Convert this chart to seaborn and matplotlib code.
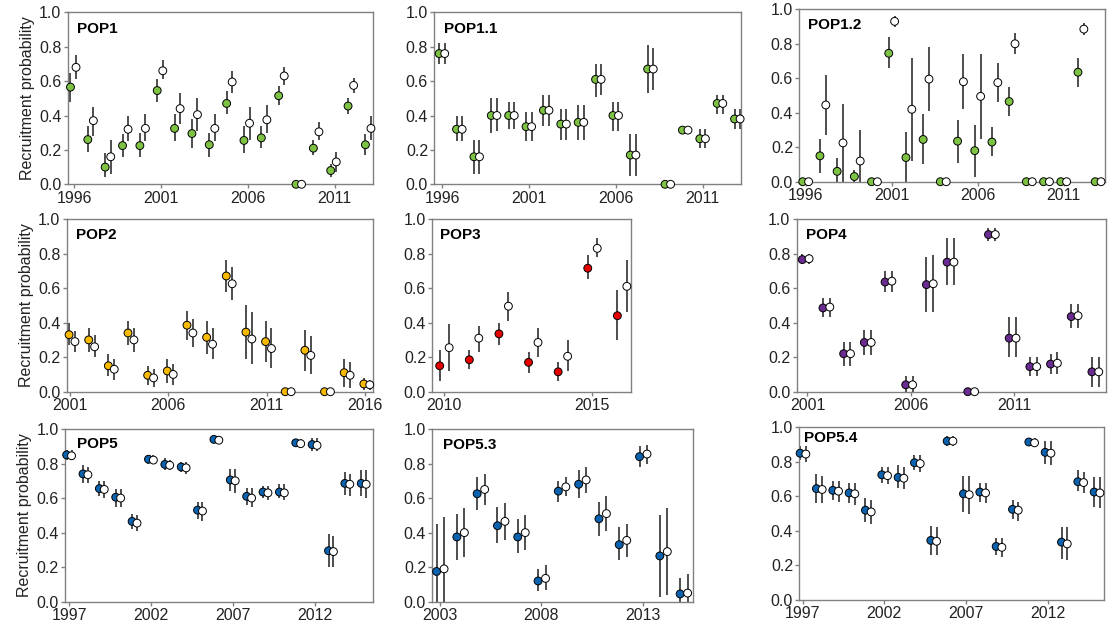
import numpy as np
import pandas as pd
import matplotlib
matplotlib.use("Agg")
import matplotlib.pyplot as plt
import seaborn as sns

# ---------------- DATA ----------------
pop1_start = 1996
pop1_fill    = [0.565, 0.26, 0.10, 0.225, 0.225, 0.545, 0.325, 0.295, 0.23, 0.47, 0.255, 0.27, 0.515, 0.0, 0.21, 0.08, 0.455, 0.23]
pop1_fill_lo = [0.48, 0.19, 0.04, 0.16, 0.16, 0.48, 0.25, 0.21, 0.16, 0.41, 0.18, 0.21, 0.46, 0.0, 0.17, 0.04, 0.41, 0.17]
pop1_fill_hi = [0.65, 0.34, 0.18, 0.29, 0.30, 0.61, 0.41, 0.38, 0.30, 0.54, 0.34, 0.34, 0.57, 0.0, 0.26, 0.12, 0.50, 0.29]
pop1_open    = [0.68, 0.37, 0.16, 0.32, 0.325, 0.66, 0.44, 0.405, 0.325, 0.595, 0.355, 0.375, 0.63, 0.0, 0.305, 0.13, 0.575, 0.325]
pop1_open_lo = [0.61, 0.28, 0.06, 0.25, 0.25, 0.61, 0.35, 0.31, 0.25, 0.53, 0.26, 0.30, 0.58, 0.0, 0.26, 0.07, 0.53, 0.26]
pop1_open_hi = [0.75, 0.45, 0.26, 0.40, 0.41, 0.72, 0.53, 0.50, 0.41, 0.66, 0.45, 0.46, 0.68, 0.0, 0.36, 0.19, 0.62, 0.40]

pop11_start = 1996
pop11_fill    = [0.76, 0.32, 0.16, 0.40, 0.40, 0.335, 0.43, 0.35, 0.36, 0.61, 0.40, 0.17, 0.67, 0.0, 0.315, 0.265, 0.47, 0.38]
pop11_fill_lo = [0.70, 0.25, 0.06, 0.30, 0.32, 0.25, 0.34, 0.26, 0.26, 0.51, 0.31, 0.05, 0.53, 0.0, 0.315, 0.21, 0.41, 0.32]
pop11_fill_hi = [0.82, 0.40, 0.26, 0.50, 0.48, 0.42, 0.52, 0.44, 0.46, 0.70, 0.48, 0.29, 0.81, 0.0, 0.315, 0.32, 0.52, 0.44]
pop11_open    = [0.76, 0.32, 0.16, 0.40, 0.40, 0.335, 0.43, 0.35, 0.36, 0.61, 0.40, 0.17, 0.67, 0.0, 0.315, 0.265, 0.47, 0.38]
pop11_open_lo = [0.70, 0.25, 0.06, 0.31, 0.32, 0.25, 0.34, 0.26, 0.26, 0.52, 0.31, 0.05, 0.55, 0.0, 0.315, 0.21, 0.41, 0.32]
pop11_open_hi = [0.82, 0.40, 0.26, 0.50, 0.48, 0.42, 0.52, 0.44, 0.46, 0.70, 0.48, 0.29, 0.79, 0.0, 0.315, 0.32, 0.52, 0.44]

pop12_start = 1996
pop12_fill    = [0.0, 0.15, 0.06, 0.03, 0.0, 0.745, 0.14, 0.245, 0.0, 0.235, 0.18, 0.23, 0.465, 0.0, 0.0, 0.0, 0.635, 0.0]
pop12_fill_lo = [0.0, 0.05, 0.0, 0.0, 0.0, 0.66, 0.0, 0.10, 0.0, 0.11, 0.03, 0.15, 0.38, 0.0, 0.0, 0.0, 0.55, 0.0]
pop12_fill_hi = [0.0, 0.25, 0.14, 0.07, 0.0, 0.84, 0.29, 0.39, 0.0, 0.36, 0.33, 0.32, 0.55, 0.0, 0.0, 0.0, 0.72, 0.0]
pop12_open    = [0.0, 0.445, 0.225, 0.12, 0.0, 0.93, 0.42, 0.595, 0.0, 0.58, 0.495, 0.575, 0.80, 0.0, 0.0, 0.0, 0.885, 0.0]
pop12_open_lo = [0.0, 0.27, 0.0, 0.0, 0.0, 0.90, 0.12, 0.41, 0.0, 0.42, 0.25, 0.46, 0.74, 0.0, 0.0, 0.0, 0.85, 0.0]
pop12_open_hi = [0.0, 0.62, 0.45, 0.30, 0.0, 0.96, 0.72, 0.78, 0.0, 0.74, 0.74, 0.69, 0.86, 0.0, 0.0, 0.0, 0.92, 0.0]

pop2_start = 2001
pop2_fill    = [0.33, 0.30, 0.15, 0.34, 0.095, 0.12, 0.385, 0.315, 0.67, 0.345, 0.29, 0.0, 0.24, 0.0, 0.11, 0.045]
pop2_fill_lo = [0.27, 0.23, 0.09, 0.27, 0.04, 0.05, 0.30, 0.22, 0.58, 0.19, 0.17, 0.0, 0.12, 0.0, 0.03, 0.01]
pop2_fill_hi = [0.40, 0.37, 0.22, 0.41, 0.15, 0.19, 0.47, 0.41, 0.76, 0.50, 0.41, 0.0, 0.36, 0.0, 0.19, 0.08]
pop2_open    = [0.29, 0.26, 0.13, 0.30, 0.08, 0.10, 0.34, 0.275, 0.625, 0.305, 0.25, 0.0, 0.21, 0.0, 0.095, 0.04]
pop2_open_lo = [0.23, 0.20, 0.07, 0.23, 0.03, 0.04, 0.26, 0.19, 0.53, 0.16, 0.14, 0.0, 0.10, 0.0, 0.02, 0.01]
pop2_open_hi = [0.35, 0.33, 0.19, 0.37, 0.13, 0.16, 0.42, 0.37, 0.72, 0.46, 0.37, 0.0, 0.32, 0.0, 0.17, 0.07]

pop3_start = 2010
pop3_fill    = [0.15, 0.185, 0.335, 0.17, 0.115, 0.715, 0.44]
pop3_fill_lo = [0.06, 0.13, 0.27, 0.11, 0.06, 0.65, 0.30]
pop3_fill_hi = [0.24, 0.24, 0.40, 0.23, 0.17, 0.79, 0.59]
pop3_open    = [0.255, 0.31, 0.495, 0.285, 0.205, 0.83, 0.61]
pop3_open_lo = [0.12, 0.23, 0.41, 0.20, 0.12, 0.78, 0.46]
pop3_open_hi = [0.39, 0.38, 0.58, 0.37, 0.30, 0.89, 0.76]

pop4_start = 2001
pop4_fill    = [0.765, 0.485, 0.22, 0.285, 0.635, 0.04, 0.62, 0.75, 0.0, 0.91, 0.31, 0.145, 0.16, 0.435, 0.115]
pop4_fill_lo = [0.74, 0.43, 0.15, 0.21, 0.58, 0.0, 0.46, 0.62, 0.0, 0.87, 0.20, 0.09, 0.10, 0.37, 0.03]
pop4_fill_hi = [0.80, 0.54, 0.29, 0.36, 0.70, 0.09, 0.78, 0.89, 0.0, 0.95, 0.43, 0.20, 0.22, 0.51, 0.20]
pop4_open    = [0.77, 0.49, 0.22, 0.285, 0.64, 0.04, 0.625, 0.75, 0.0, 0.91, 0.31, 0.145, 0.165, 0.44, 0.115]
pop4_open_lo = [0.74, 0.43, 0.15, 0.21, 0.58, 0.0, 0.46, 0.62, 0.0, 0.87, 0.20, 0.09, 0.10, 0.37, 0.03]
pop4_open_hi = [0.80, 0.54, 0.29, 0.36, 0.70, 0.09, 0.79, 0.89, 0.0, 0.95, 0.43, 0.20, 0.23, 0.51, 0.20]

pop5_start = 1997
pop5_fill    = [0.85, 0.74, 0.655, 0.605, 0.465, 0.825, 0.795, 0.78, 0.53, 0.94, 0.705, 0.61, 0.635, 0.635, 0.92, 0.91, 0.295, 0.685, 0.685]
pop5_fill_lo = [0.82, 0.69, 0.61, 0.55, 0.42, 0.80, 0.76, 0.75, 0.48, 0.92, 0.64, 0.56, 0.60, 0.60, 0.90, 0.87, 0.20, 0.62, 0.61]
pop5_fill_hi = [0.88, 0.79, 0.70, 0.65, 0.51, 0.85, 0.83, 0.81, 0.58, 0.96, 0.77, 0.66, 0.67, 0.68, 0.94, 0.95, 0.39, 0.75, 0.76]
pop5_open    = [0.845, 0.735, 0.65, 0.60, 0.455, 0.82, 0.79, 0.775, 0.525, 0.935, 0.70, 0.60, 0.63, 0.63, 0.915, 0.905, 0.29, 0.68, 0.68]
pop5_open_lo = [0.82, 0.69, 0.60, 0.55, 0.41, 0.80, 0.76, 0.74, 0.47, 0.92, 0.63, 0.55, 0.59, 0.59, 0.90, 0.87, 0.20, 0.61, 0.60]
pop5_open_hi = [0.88, 0.78, 0.70, 0.65, 0.50, 0.85, 0.82, 0.81, 0.58, 0.96, 0.77, 0.66, 0.67, 0.68, 0.94, 0.95, 0.38, 0.74, 0.76]

pop53_start = 2003
pop53_fill    = [0.175, 0.375, 0.625, 0.44, 0.375, 0.12, 0.64, 0.68, 0.48, 0.33, 0.84, 0.265, 0.045]
pop53_fill_lo = [0.0, 0.24, 0.53, 0.34, 0.28, 0.06, 0.58, 0.60, 0.38, 0.24, 0.78, 0.03, 0.0]
pop53_fill_hi = [0.45, 0.51, 0.72, 0.55, 0.48, 0.19, 0.70, 0.76, 0.58, 0.43, 0.90, 0.50, 0.14]
pop53_open    = [0.19, 0.40, 0.65, 0.465, 0.40, 0.135, 0.665, 0.705, 0.51, 0.355, 0.855, 0.29, 0.05]
pop53_open_lo = [0.0, 0.26, 0.56, 0.36, 0.30, 0.07, 0.61, 0.63, 0.41, 0.26, 0.80, 0.04, 0.0]
pop53_open_hi = [0.49, 0.54, 0.74, 0.57, 0.50, 0.21, 0.72, 0.78, 0.61, 0.45, 0.91, 0.54, 0.16]

pop54_start = 1997
pop54_fill    = [0.85, 0.645, 0.635, 0.62, 0.52, 0.725, 0.71, 0.795, 0.345, 0.92, 0.615, 0.625, 0.31, 0.525, 0.915, 0.855, 0.335, 0.685, 0.625]
pop54_fill_lo = [0.81, 0.56, 0.58, 0.56, 0.45, 0.68, 0.65, 0.75, 0.26, 0.89, 0.51, 0.57, 0.26, 0.47, 0.89, 0.79, 0.24, 0.63, 0.54]
pop54_fill_hi = [0.89, 0.73, 0.69, 0.68, 0.59, 0.77, 0.78, 0.84, 0.43, 0.95, 0.72, 0.68, 0.36, 0.58, 0.94, 0.92, 0.42, 0.75, 0.71]
pop54_open    = [0.845, 0.64, 0.63, 0.615, 0.51, 0.72, 0.705, 0.79, 0.34, 0.92, 0.61, 0.62, 0.305, 0.52, 0.91, 0.85, 0.325, 0.68, 0.62]
pop54_open_lo = [0.80, 0.56, 0.57, 0.55, 0.44, 0.67, 0.64, 0.74, 0.26, 0.89, 0.50, 0.56, 0.25, 0.46, 0.89, 0.78, 0.23, 0.62, 0.53]
pop54_open_hi = [0.89, 0.72, 0.69, 0.68, 0.58, 0.77, 0.77, 0.84, 0.42, 0.95, 0.72, 0.68, 0.36, 0.57, 0.94, 0.92, 0.42, 0.74, 0.71]

tick_labels_pop1 = [1996, 2001, 2006, 2011]
tick_labels_pop2 = [2001, 2006, 2011, 2016]
tick_labels_pop3 = [2010, 2015]
tick_labels_pop4 = [2001, 2006, 2011]
tick_labels_pop5 = [1997, 2002, 2007, 2012]
tick_labels_pop53 = [2003, 2008, 2013]

# ---------------- STYLE ----------------
sns.set_theme(style="ticks")
plt.rcParams['font.family'] = ['Liberation Sans', 'DejaVu Sans']
plt.rcParams['font.size'] = 11

W, H = 1113, 631
fig = plt.figure(figsize=(W / 100, H / 100), dpi=100)

GREEN = '#7DC242'
GOLD = '#F7BA00'
RED = '#E60000'
PURPLE = '#6B2C91'
BLUE = '#0B63B0'
BAR = '#404040'
SPINE = '#808080'

panels = [
    ("POP1", pop1_start, (pop1_fill, pop1_fill_lo, pop1_fill_hi, pop1_open, pop1_open_lo, pop1_open_hi),
     GREEN, (67.7, 12.3, 372.7, 184.3), (1995.62, 2013.2), tick_labels_pop1, (-0.22, 0.10), True, (0.03, 0.905)),
    ("POP1.1", pop11_start, (pop11_fill, pop11_fill_lo, pop11_fill_hi, pop11_open, pop11_open_lo, pop11_open_hi),
     GREEN, (434.3, 12.3, 741.0, 184.3), (1995.55, 2013.2), tick_labels_pop1, (-0.17, 0.15), False, (0.03, 0.905)),
    ("POP1.2", pop12_start, (pop12_fill, pop12_fill_lo, pop12_fill_hi, pop12_open, pop12_open_lo, pop12_open_hi),
     GREEN, (799.3, 9.3, 1105.0, 181.7), (1995.63, 2013.4), tick_labels_pop1, (-0.17, 0.17), False, (0.03, 0.91)),
    ("POP2", pop2_start, (pop2_fill, pop2_fill_lo, pop2_fill_hi, pop2_open, pop2_open_lo, pop2_open_hi),
     GOLD, (66.7, 219.0, 372.7, 391.7), (2000.83, 2016.4), tick_labels_pop2, (-0.05, 0.25), True, (0.03, 0.905)),
    ("POP3", pop3_start, (pop3_fill, pop3_fill_lo, pop3_fill_hi, pop3_open, pop3_open_lo, pop3_open_hi),
     RED, (432.3, 219.0, 630.7, 391.7), (2009.6, 2016.3), tick_labels_pop3, (-0.15, 0.17), False, (0.04, 0.905)),
    ("POP4", pop4_start, (pop4_fill, pop4_fill_lo, pop4_fill_hi, pop4_open, pop4_open_lo, pop4_open_hi),
     PURPLE, (796.7, 219.0, 1106.0, 391.7), (2000.48, 2015.43), tick_labels_pop4, (-0.25, 0.08), False, (0.03, 0.905)),
    ("POP5", pop5_start, (pop5_fill, pop5_fill_lo, pop5_fill_hi, pop5_open, pop5_open_lo, pop5_open_hi),
     BLUE, (65.0, 429.0, 372.7, 601.7), (1996.75, 2015.55), tick_labels_pop5, (-0.15, 0.15), True, (0.04, 0.915)),
    ("POP5.3", pop53_start, (pop53_fill, pop53_fill_lo, pop53_fill_hi, pop53_open, pop53_open_lo, pop53_open_hi),
     BLUE, (432.3, 429.0, 693.3, 601.7), (2002.62, 2015.48), tick_labels_pop53, (-0.17, 0.20), False, (0.04, 0.905)),
    ("POP5.4", pop54_start, (pop54_fill, pop54_fill_lo, pop54_fill_hi, pop54_open, pop54_open_lo, pop54_open_hi),
     BLUE, (799.3, 427.3, 1104.0, 600.0), (1996.8, 2015.45), tick_labels_pop5, (-0.15, 0.20), False, (0.015, 0.94)),
]

for name, start, data, color, box, xlim, ticks, offs, ylab, tpos in panels:
    l, t, r, b = box
    ax = fig.add_axes([l / W, 1 - b / H, (r - l) / W, (b - t) / H])
    fill, flo, fhi, opn, olo, ohi = data
    years = np.arange(start, start + len(fill))
    df = pd.DataFrame({
        "year": np.concatenate([years, years]),
        "value": np.concatenate([fill, opn]),
        "lo": np.concatenate([flo, olo]),
        "hi": np.concatenate([fhi, ohi]),
        "kind": ["fill"] * len(fill) + ["open"] * len(opn),
    })
    df["pos"] = df["year"] + np.where(df["kind"] == "fill", offs[0], offs[1])

    ax.vlines(df["pos"], df["lo"], df["hi"], color=BAR, lw=1.3, zorder=2, clip_on=False)
    sns.scatterplot(data=df, x="pos", y="value", hue="kind",
                    palette={"fill": color, "open": "white"},
                    edgecolor="black", linewidth=0.7, s=32, legend=False,
                    ax=ax, zorder=3, clip_on=False)

    ax.set_xlim(*xlim)
    ax.set_ylim(0, 1.0)
    ax.set_xticks(ticks)
    ax.set_xticklabels([str(v) for v in ticks])
    ax.set_yticks(np.arange(0, 1.01, 0.2))
    ax.set_yticklabels([f"{v:.1f}" for v in np.arange(0, 1.01, 0.2)])
    ax.set_xlabel("")
    ax.set_ylabel("Recruitment probability" if ylab else "", fontsize=11.5, color='#222222', labelpad=3)
    for sp in ax.spines.values():
        sp.set_visible(True)
        sp.set_color(SPINE)
        sp.set_linewidth(1.0)
    ax.tick_params(axis='both', colors=SPINE, labelcolor='#222222', labelsize=11.5,
                   length=3, width=1.0, pad=1.5)
    ax.text(tpos[0], tpos[1], name, transform=ax.transAxes, fontsize=11,
            fontweight='bold', va='center', ha='left', color='black')

fig.savefig("out.png", dpi=100)
